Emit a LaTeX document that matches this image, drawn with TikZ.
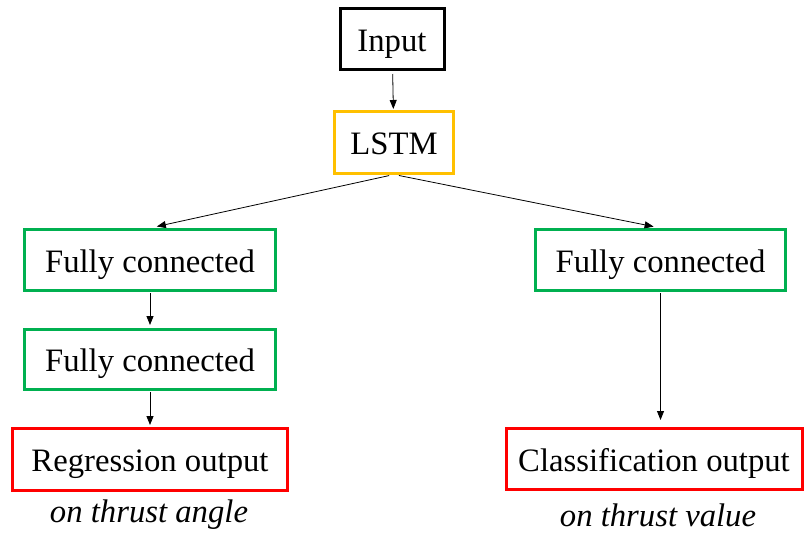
\documentclass[tikz,border=0pt]{standalone}
\usepackage{fontspec}
\setmainfont{Liberation Serif}
\usetikzlibrary{arrows.meta}

\definecolor{lstmorange}{HTML}{FFC000}
\definecolor{fcgreen}{HTML}{00B050}
\definecolor{outred}{HTML}{FF0000}

\begin{document}
\begin{tikzpicture}[x=1pt, y=-1pt, >={Triangle[length=9pt,width=7pt]},
    box/.style={draw, line width=3pt, inner sep=0pt, text height=26pt, text depth=2pt,
        font=\fontsize{32.7}{38}\selectfont},
    link/.style={->, line width=0.8pt},
    note/.style={anchor=base, font=\fontsize{32.7}{38}\selectfont\itshape}]
    \useasboundingbox (0,0) rectangle (805,533);

    \node[box, minimum width=104pt, minimum height=61pt] (input) at (392, 39) {Input};
    \node[box, draw=lstmorange, minimum width=119pt, minimum height=62pt] (lstm) at (394, 142) {LSTM};

    \node[box, draw=fcgreen, minimum width=251pt, minimum height=61pt] (fcA) at (150, 260) {Fully connected};
    \node[box, draw=fcgreen, minimum width=251pt, minimum height=60pt] (fcB) at (150, 359.5) {Fully connected};
    \node[box, draw=fcgreen, minimum width=250pt, minimum height=61pt] (fcC) at (660.5, 260) {Fully connected};

    \node[box, draw=outred, minimum width=275pt, minimum height=62pt] (reg) at (150, 459.5) {Regression output};
    \node[box, draw=outred, minimum width=296pt, minimum height=61pt] (cls) at (654, 459) {Classification output};

    \node[note] (angle) at (149, 522) {on thrust angle};
    \node[note] (value) at (658, 526) {on thrust value};

    \draw[link, shorten <=3pt, shorten >=0.5pt] (input) -- (lstm);
    \draw[link, shorten <=5pt, shorten >=7pt] (lstm.south) -- (fcA.north);
    \draw[link, shorten <=5pt, shorten >=7pt] (lstm.south) -- (fcC.north);
    \draw[link, shorten <=1pt, shorten >=3pt] (fcA) -- (fcB);
    \draw[link, shorten <=1pt, shorten >=2pt] (fcB) -- (reg);
    \draw[link, shorten <=1pt, shorten >=7pt] (fcC.south) -- (fcC.south |- cls.north);
\end{tikzpicture}
\end{document}
